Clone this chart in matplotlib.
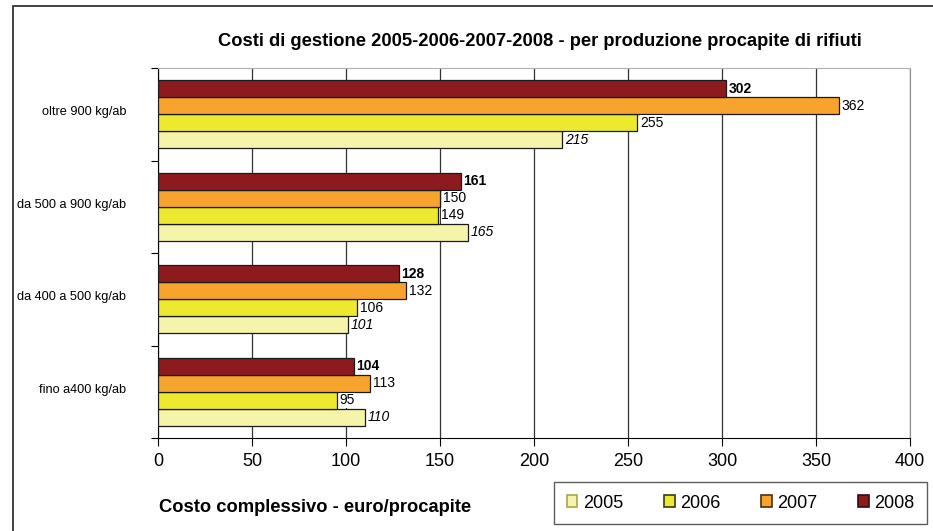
import numpy as np
import matplotlib
matplotlib.use("Agg")
from matplotlib import pyplot as plt
from matplotlib.patches import Rectangle

plt.rcParams['font.family'] = ['Liberation Sans', 'DejaVu Sans']

categories = ['fino a400 kg/ab', 'da 400 a 500 kg/ab', 'da 500 a 900 kg/ab', 'oltre 900 kg/ab']
years = ['2005', '2006', '2007', '2008']
v2005 = [110, 101, 165, 215]
v2006 = [95, 106, 149, 255]
v2007 = [113, 132, 150, 362]
v2008 = [104, 128, 161, 302]
colors = ['#F6F3AA', '#ECE92E', '#F7A42E', '#8C1A1E']
edges = ['#a9a650', '#3a3a10', '#4a3010', '#3a0a0a']
label_styles = [dict(style='italic'), dict(), dict(), dict(weight='bold')]

fig = plt.figure(figsize=(9.33, 5.31), dpi=100)
ax = fig.add_axes([158 / 933, 1 - 438 / 531, 752 / 933, 370 / 531])

# outer frame
fig.patches.append(Rectangle((13 / 933, -0.1), 1.2, 1 - 6 / 531 + 0.1, transform=fig.transFigure,
                             fill=False, edgecolor='#333333', linewidth=1.3))

series = [v2005, v2006, v2007, v2008]
h = 0.184
y = np.arange(len(categories))
for i, vals in enumerate(series):
    pos = y + (i - 1.5) * h
    ax.barh(pos, vals, height=h, color=colors[i], edgecolor='#1a1a1a', linewidth=0.9,
            label=years[i], zorder=3)
    for p, v in zip(pos, vals):
        ax.text(v + 1.5, p, str(v), va='center', ha='left', fontsize=10, zorder=4,
                bbox=dict(facecolor='white', edgecolor='none', pad=0.3), **label_styles[i])

ax.set_xlim(0, 400)
ax.set_ylim(-0.5, 3.5)
ax.set_xticks(np.arange(0, 401, 50))
ax.tick_params(axis='x', labelsize=13, length=6, direction='out', pad=5)
ax.set_yticks(np.arange(-0.5, 3.6, 1.0))
ax.set_yticklabels([])
ax.tick_params(axis='y', length=5, direction='out')
ax.set_yticks(y + 0.04, minor=True)
ax.set_yticklabels(categories, minor=True, ha='right', fontsize=9.2)
ax.tick_params(axis='y', which='minor', length=0, pad=23)
ax.grid(axis='x', color='#333333', linewidth=0.9, zorder=0)
ax.set_axisbelow(True)
ax.spines['top'].set_color('#b0b0b0')
ax.spines['right'].set_color('#909090')
ax.spines['left'].set_color('black')
ax.spines['bottom'].set_color('black')

fig.text(540 / 933, 1 - 42 / 531, 'Costi di gestione 2005-2006-2007-2008 - per produzione procapite di rifiuti',
         ha='center', va='center', fontsize=13.2, weight='bold')
fig.text(159 / 933, 1 - 508 / 531, 'Costo complessivo - euro/procapite', ha='left', va='center',
         fontsize=13.2, weight='bold')

leg = fig.legend(loc='center', bbox_to_anchor=(740.5 / 933, 1 - 503 / 531), ncol=4, frameon=True,
                 fancybox=False, edgecolor='#333333', fontsize=13, handlelength=0.6, handleheight=0.6,
                 columnspacing=2.25, handletextpad=0.3, borderpad=0.7)
leg.get_frame().set_linewidth(1.0)
for patch, c, e in zip(leg.get_patches(), colors, edges):
    patch.set_edgecolor(e)
    patch.set_linewidth(1.2)

fig.savefig('out.png', dpi=100)
